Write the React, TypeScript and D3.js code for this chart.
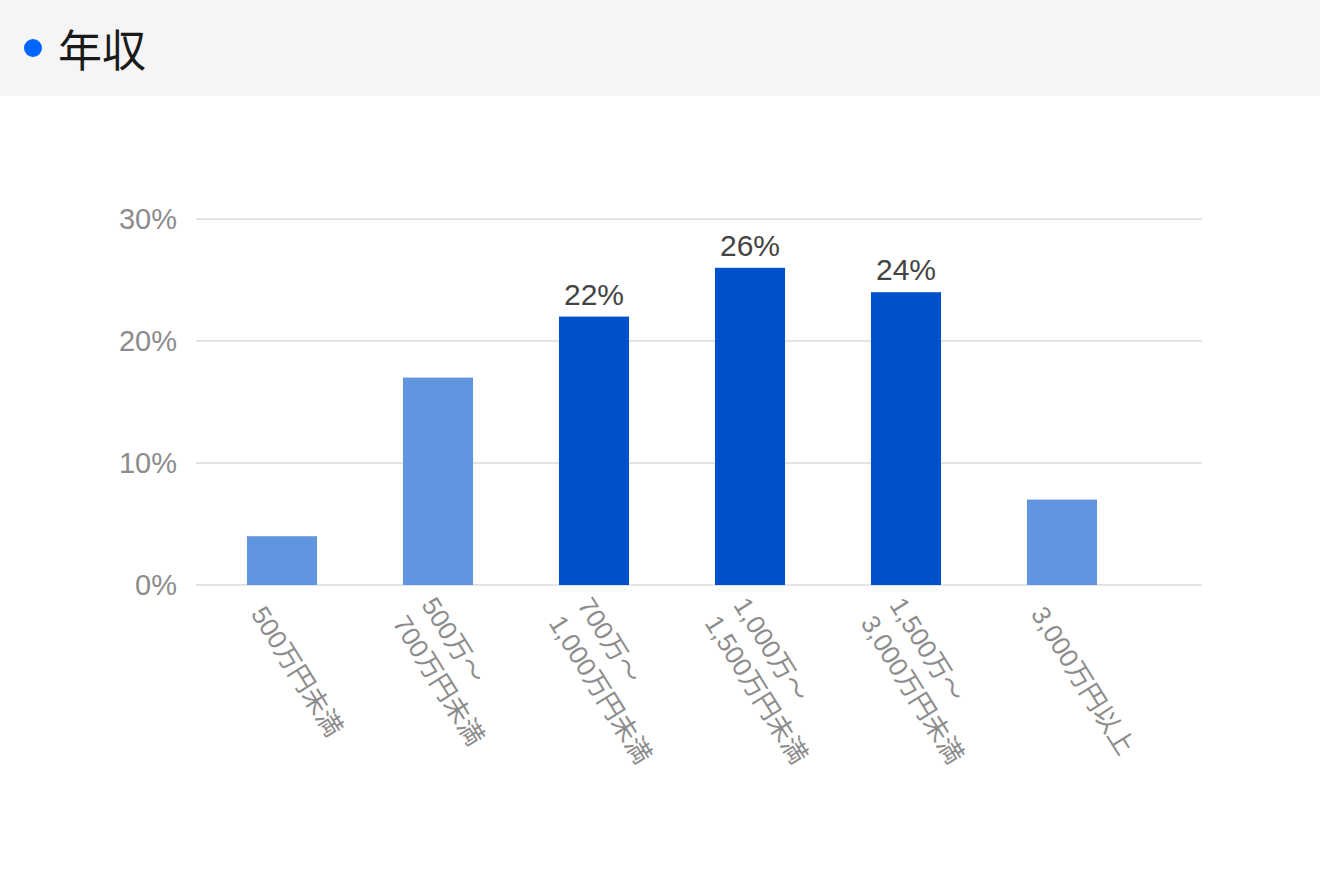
import React from "react";
import * as d3 from "d3";

const categories: string[][] = [
  ["500万円未満"],
  ["500万～", "700万円未満"],
  ["700万～", "1,000万円未満"],
  ["1,000万～", "1,500万円未満"],
  ["1,500万～", "3,000万円未満"],
  ["3,000万円以上"],
];
const values: number[] = [4, 17, 22, 26, 24, 7];
const highlighted: boolean[] = [false, false, true, true, true, false];
const yTicks: number[] = [0, 10, 20, 30];
const title = "年収";

const W = 1320;
const H = 880;
const FONT = "'Liberation Sans', 'Noto Sans CJK JP', sans-serif";

export default function App() {
  const x = d3
    .scaleBand<number>()
    .domain(d3.range(categories.length))
    .range([204, 1140])
    .paddingInner(0.551)
    .paddingOuter(0.2755);
  const y = d3.scaleLinear().domain([0, 30]).range([585, 219]);
  const angle = 58;
  const lineH = 34;

  return (
    <svg
      width={W}
      height={H}
      style={{ position: "absolute", left: 0, top: 0, background: "#fff" }}
      fontFamily={FONT}
    >
      <rect x={0} y={0} width={W} height={96} fill="#f5f5f5" />
      <circle cx={33} cy={48} r={9} fill="#0066ff" />
      <text
        x={58}
        y={48}
        dominantBaseline="central"
        fontSize={44}
        fill="#1a1a1a"
        fontFamily="'Noto Sans CJK JP', sans-serif"
      >
        {title}
      </text>

      {yTicks.map((t) => (
        <g key={t}>
          <line x1={196} x2={1202} y1={y(t)} y2={y(t)} stroke="#e4e4e4" strokeWidth={2} />
          <text
            x={177}
            y={y(t)}
            textAnchor="end"
            dominantBaseline="central"
            fontSize={29}
            fill="#8c8c8c"
          >
            {`${t}%`}
          </text>
        </g>
      ))}

      {values.map((v, i) => {
        const bx = x(i)!;
        const bw = x.bandwidth();
        return (
          <g key={i}>
            <rect
              x={bx}
              y={y(v)}
              width={bw}
              height={y(0) - y(v)}
              fill={highlighted[i] ? "#0052cc" : "#6295e0"}
            />
            {highlighted[i] && (
              <text
                x={bx + bw / 2}
                y={y(v) - 12}
                textAnchor="middle"
                fontSize={30}
                fill="#444"
              >
                {`${v}%`}
              </text>
            )}
          </g>
        );
      })}

      {categories.map((lines, i) => {
        const cx = x(i)! + x.bandwidth() / 2;
        const n = lines.length;
        return (
          <g key={i} transform={`translate(${cx - 24},${609}) rotate(${angle})`}>
            {lines.map((ln, j) => (
              <text
                key={j}
                x={0}
                y={(j - (n - 1) / 2) * lineH}
                dominantBaseline="central"
                fontSize={26}
                fill="#8c8c8c"
              >
                {ln}
              </text>
            ))}
          </g>
        );
      })}
    </svg>
  );
}
